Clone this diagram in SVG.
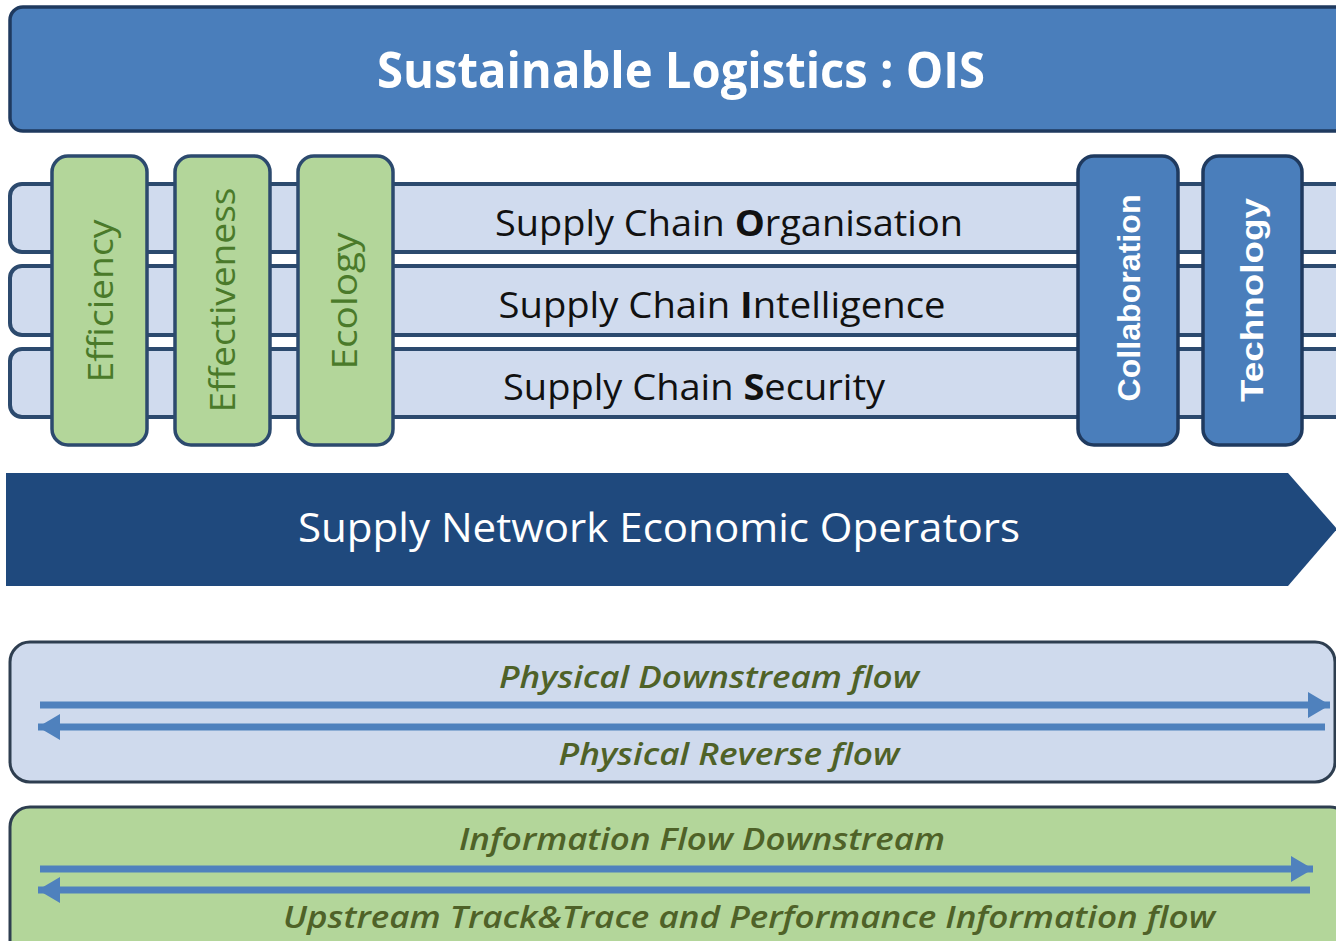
<svg xmlns="http://www.w3.org/2000/svg" width="1336" height="941" viewBox="0 0 1336 941">
<style>
.bar{fill:#d0dbee;stroke:#2c4a6e;stroke-width:4}
.gbox{fill:#b3d69a;stroke:#2c4a6e;stroke-width:3.5}
.bbox{fill:#4a7ebb;stroke:#1f3a5f;stroke-width:3.5}
.vt{font-family:"Open Sans","Liberation Sans",sans-serif;font-size:34px;text-anchor:middle}
.gt{fill:#4a7a2a}
.wt{fill:#ffffff;font-family:"Liberation Sans","Open Sans",sans-serif;font-weight:bold;font-size:32px}
.bt{font-family:"Open Sans","Liberation Sans",sans-serif;font-size:36px;fill:#111111;text-anchor:middle}
.ft{font-family:"Open Sans","Liberation Sans",sans-serif;font-size:30px;font-style:italic;font-weight:600;fill:#4f6228;text-anchor:middle}
.arr{stroke:#4f81bd;stroke-width:7;fill:none}
</style>
<defs>
<marker id="ah" markerUnits="userSpaceOnUse" markerWidth="24" markerHeight="26" refX="22" refY="13" orient="auto">
<path d="M0,0 L22,13 L0,26 Z" fill="#4f81bd"/>
</marker>
</defs>
<rect width="1336" height="941" fill="#ffffff"/>
<g id="title">
<rect x="10" y="7" width="1340" height="124" rx="13" fill="#4a7ebb" stroke="#1f3a5f" stroke-width="3.5"/>
<text x="681" y="88" font-family="Open Sans, Liberation Sans, sans-serif" font-size="50" font-weight="bold" fill="#ffffff" text-anchor="middle" textLength="608" lengthAdjust="spacingAndGlyphs">Sustainable Logistics : OIS</text>
</g>
<g id="bar-organisation">
<rect class="bar" x="10" y="184" width="1350" height="68" rx="12"/>
<text class="bt" x="729" y="236" textLength="468" lengthAdjust="spacingAndGlyphs">Supply Chain <tspan font-weight="bold">O</tspan>rganisation</text>
</g>
<g id="bar-intelligence">
<rect class="bar" x="10" y="266" width="1350" height="69" rx="12"/>
<text class="bt" x="722" y="318" textLength="447" lengthAdjust="spacingAndGlyphs">Supply Chain <tspan font-weight="bold">I</tspan>ntelligence</text>
</g>
<g id="bar-security">
<rect class="bar" x="10" y="349" width="1350" height="68" rx="12"/>
<text class="bt" x="694" y="400" textLength="382" lengthAdjust="spacingAndGlyphs">Supply Chain <tspan font-weight="bold">S</tspan>ecurity</text>
</g>
<g id="efficiency">
<rect class="gbox" x="52" y="156" width="95" height="289" rx="16"/>
<text class="vt gt" transform="translate(113,301) rotate(-90)" textLength="163" lengthAdjust="spacingAndGlyphs">Efficiency</text>
</g>
<g id="effectiveness">
<rect class="gbox" x="175" y="156" width="95" height="289" rx="16"/>
<text class="vt gt" transform="translate(235,300) rotate(-90)" textLength="225" lengthAdjust="spacingAndGlyphs">Effectiveness</text>
</g>
<g id="ecology">
<rect class="gbox" x="298" y="156" width="95" height="289" rx="16"/>
<text class="vt gt" transform="translate(357,301) rotate(-90)" textLength="137" lengthAdjust="spacingAndGlyphs">Ecology</text>
</g>
<g id="collaboration">
<rect class="bbox" x="1078" y="156" width="100" height="289" rx="16"/>
<text class="vt wt" transform="translate(1140,298) rotate(-90)" textLength="207" lengthAdjust="spacingAndGlyphs">Collaboration</text>
</g>
<g id="technology">
<rect class="bbox" x="1203" y="156" width="99" height="289" rx="16"/>
<text class="vt wt" transform="translate(1263,300) rotate(-90)" textLength="204" lengthAdjust="spacingAndGlyphs">Technology</text>
</g>
<g id="operators">
<polygon points="6,473 1288,473 1337,529 1288,586 6,586" fill="#1f497d"/>
<text x="659" y="542" font-family="Open Sans, Liberation Sans, sans-serif" font-size="40" fill="#ffffff" text-anchor="middle" textLength="722" lengthAdjust="spacingAndGlyphs">Supply Network Economic Operators</text>
</g>
<g id="physical-flow">
<rect x="10" y="642" width="1325" height="140" rx="20" fill="#cfdaed" stroke="#2e3e50" stroke-width="3"/>
<text class="ft" x="709" y="688" textLength="420" lengthAdjust="spacingAndGlyphs">Physical Downstream  flow</text>
<text class="ft" x="729" y="765" textLength="341" lengthAdjust="spacingAndGlyphs">Physical Reverse  flow</text>
</g>
<g id="information-flow">
<rect x="10" y="807" width="1340" height="160" rx="20" fill="#b3d69a" stroke="#2e3e50" stroke-width="3"/>
<text class="ft" x="702" y="850" textLength="486" lengthAdjust="spacingAndGlyphs">Information Flow Downstream</text>
<text class="ft" x="749" y="928" textLength="932" lengthAdjust="spacingAndGlyphs">Upstream Track&amp;Trace  and  Performance  Information  flow</text>
</g>
<g id="connectors">
<line class="arr" x1="40" y1="705" x2="1330" y2="705" marker-end="url(#ah)"/>
<line class="arr" x1="1325" y1="727" x2="38" y2="727" marker-end="url(#ah)"/>
<line class="arr" x1="40" y1="869" x2="1313" y2="869" marker-end="url(#ah)"/>
<line class="arr" x1="1310" y1="890" x2="38" y2="890" marker-end="url(#ah)"/>
</g>
</svg>
